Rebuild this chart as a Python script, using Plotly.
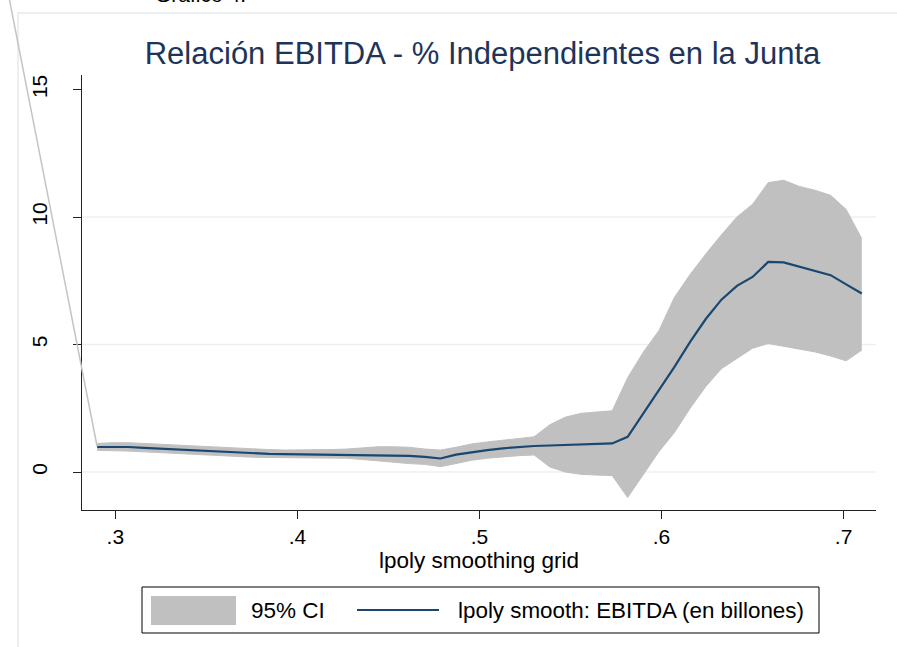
import plotly.graph_objects as go

# ---------------- data ----------------
x_grid = [0.2900, 0.2986, 0.3071, 0.3157, 0.3243, 0.3329, 0.3414, 0.3500, 0.3586, 0.3671,
          0.3757, 0.3843, 0.3929, 0.4014, 0.4100, 0.4186, 0.4271, 0.4357, 0.4443, 0.4529,
          0.4614, 0.4700, 0.4786, 0.4871, 0.4957, 0.5043, 0.5129, 0.5214, 0.5300, 0.5386,
          0.5471, 0.5557, 0.5643, 0.5729, 0.5814, 0.5900, 0.5986, 0.6071, 0.6157, 0.6243,
          0.6329, 0.6414, 0.6500, 0.6586, 0.6671, 0.6757, 0.6843, 0.6929, 0.7014, 0.7100]

smooth = [0.98, 0.99, 0.98, 0.95, 0.92, 0.89, 0.85, 0.81, 0.78, 0.76,
          0.73, 0.71, 0.70, 0.69, 0.68, 0.67, 0.67, 0.66, 0.65, 0.64,
          0.63, 0.59, 0.53, 0.68, 0.78, 0.86, 0.93, 0.98, 1.02, 1.04,
          1.06, 1.08, 1.10, 1.12, 1.38, 2.30, 3.25, 4.12, 5.10, 6.00,
          6.76, 7.30, 7.65, 8.24, 8.22, 8.05, 7.88, 7.72, 7.36, 7.00]

ci_upper = [1.12, 1.15, 1.15, 1.12, 1.09, 1.06, 1.02, 0.98, 0.95, 0.92,
            0.90, 0.88, 0.86, 0.86, 0.87, 0.88, 0.90, 0.94, 0.99, 0.99,
            0.97, 0.90, 0.86, 0.97, 1.10, 1.18, 1.25, 1.32, 1.38, 1.85,
            2.15, 2.30, 2.36, 2.40, 3.70, 4.70, 5.55, 6.85, 7.75, 8.55,
            9.30, 10.00, 10.50, 11.35, 11.44, 11.20, 11.05, 10.85, 10.30, 9.15]

ci_lower = [0.85, 0.84, 0.82, 0.79, 0.76, 0.72, 0.68, 0.65, 0.62, 0.60,
            0.58, 0.57, 0.56, 0.55, 0.55, 0.54, 0.54, 0.49, 0.43, 0.37,
            0.33, 0.30, 0.21, 0.33, 0.46, 0.54, 0.60, 0.64, 0.67, 0.20,
            0.00, -0.09, -0.12, -0.14, -1.00, -0.10, 0.80, 1.55, 2.50, 3.35,
            4.05, 4.45, 4.85, 5.04, 4.93, 4.82, 4.71, 4.55, 4.36, 4.78]

x_tickvals = [0.3, 0.4, 0.5, 0.6, 0.7]
x_ticktext = [".3", ".4", ".5", ".6", ".7"]
y_tickvals = [0, 5, 10, 15]
y_ticktext = ["0", "5", "10", "15"]
y_gridvals = [0, 5, 10]

title_text = "Relación EBITDA - % Independientes en la Junta"
x_title = "lpoly smoothing grid"
legend_labels = ["95% CI", "lpoly smooth: EBITDA (en billones)"]
top_text = "Gráfico 4."

# stray outline segment that leaves the CI band towards the top-left (data units)
stray_x = [0.2900, 0.2398]
stray_y = [1.00, 19.27]

# ---------------- styling / layout ----------------
W, H = 897, 647
ML, MR, MT, MB = 82, 21, 75, 137
PW, PH = W - ML - MR, H - MT - MB
X_RANGE = [0.2817, 0.7178]
Y_RANGE = [-1.49, 15.57]

NAVY = "#1a476f"
CI_GRAY = "#c0c0c0"
FONT = "Liberation Sans, Arial, Helvetica, sans-serif"


def px_x(px):
    return (px - ML) / PW


def px_y(py):
    return (H - MB - py) / PH


def dx(v):
    return (v - X_RANGE[0]) / (X_RANGE[1] - X_RANGE[0])


def dy(v):
    return (v - Y_RANGE[0]) / (Y_RANGE[1] - Y_RANGE[0])


fig = go.Figure()
fig.add_trace(go.Scatter(x=x_grid, y=ci_lower, mode="lines",
                         line=dict(color=CI_GRAY, width=1),
                         showlegend=False, hoverinfo="skip"))
fig.add_trace(go.Scatter(x=x_grid, y=ci_upper, mode="lines", fill="tonexty",
                         fillcolor=CI_GRAY, line=dict(color=CI_GRAY, width=1),
                         name=legend_labels[0], showlegend=False, hoverinfo="skip"))
fig.add_trace(go.Scatter(x=x_grid, y=smooth, mode="lines",
                         line=dict(color=NAVY, width=2.2),
                         name=legend_labels[1], showlegend=False))

shapes = []
# outer light frame
shapes.append(dict(type="rect", xref="paper", yref="paper",
                   x0=px_x(18), x1=px_x(910), y0=px_y(670), y1=px_y(13),
                   line=dict(color="#e3eaed", width=1.5), fillcolor="rgba(0,0,0,0)",
                   layer="below"))
# horizontal grid lines
for g in y_gridvals:
    shapes.append(dict(type="line", xref="paper", yref="y", x0=0, x1=1, y0=g, y1=g,
                       line=dict(color="#eaf0f2", width=1.5), layer="below"))
# stray outline segment
shapes.append(dict(type="line", xref="paper", yref="paper",
                   x0=dx(stray_x[0]), y0=dy(stray_y[0]),
                   x1=dx(stray_x[1]), y1=dy(stray_y[1]),
                   line=dict(color="#c4c4c4", width=1.5), layer="above"))
# legend box
leg_cy = 610
shapes.append(dict(type="rect", xref="paper", yref="paper",
                   x0=px_x(142), x1=px_x(819), y0=px_y(633), y1=px_y(587),
                   line=dict(color="#000000", width=1), fillcolor="white"))
shapes.append(dict(type="rect", xref="paper", yref="paper",
                   x0=px_x(151), x1=px_x(236), y0=px_y(625), y1=px_y(596),
                   line=dict(width=0), fillcolor=CI_GRAY))
shapes.append(dict(type="line", xref="paper", yref="paper",
                   x0=px_x(357), x1=px_x(439), y0=px_y(leg_cy), y1=px_y(leg_cy),
                   line=dict(color=NAVY, width=2.2)))

annotations = [
    dict(text=legend_labels[0], xref="paper", yref="paper", x=px_x(249), y=px_y(leg_cy),
         xanchor="left", yanchor="middle", showarrow=False,
         font=dict(family=FONT, size=22.5, color="#000000")),
    dict(text=legend_labels[1], xref="paper", yref="paper", x=px_x(456), y=px_y(leg_cy),
         xanchor="left", yanchor="middle", showarrow=False,
         font=dict(family=FONT, size=22.4, color="#000000")),
    dict(text=top_text, xref="paper", yref="paper", x=px_x(153), y=px_y(-6),
         xanchor="left", yanchor="middle", showarrow=False,
         font=dict(family=FONT, size=21, color="#000000")),
]

fig.update_layout(
    width=W, height=H,
    margin=dict(l=ML, r=MR, t=MT, b=MB, pad=0),
    paper_bgcolor="white", plot_bgcolor="white",
    showlegend=False,
    title=dict(text=title_text, x=px_x(482.5), xref="paper", xanchor="center",
               y=1 - 53 / H, yref="container", yanchor="middle",
               font=dict(family=FONT, size=31, color="#1e3459")),
    shapes=shapes,
    annotations=annotations,
    xaxis=dict(range=X_RANGE, showgrid=False, zeroline=False,
               showline=True, linecolor="#222222", linewidth=1,
               ticks="outside", ticklen=8, tickcolor="#222222",
               tickvals=x_tickvals, ticktext=x_ticktext,
               tickfont=dict(family=FONT, size=21, color="#000000"),
               title=dict(text=x_title, standoff=0,
                          font=dict(family=FONT, size=22.5, color="#000000"))),
    yaxis=dict(range=Y_RANGE, showgrid=False, zeroline=False,
               showline=True, linecolor="#222222", linewidth=1,
               ticks="outside", ticklen=8, tickcolor="#222222",
               tickvals=y_tickvals, ticktext=y_ticktext, tickangle=-90,
               ticklabelstandoff=18,
               tickfont=dict(family=FONT, size=21, color="#000000")),
)

fig.write_html("out.html",
               config={"displayModeBar": False},
               post_script="document.body.style.margin='0';document.body.style.padding='0';")
